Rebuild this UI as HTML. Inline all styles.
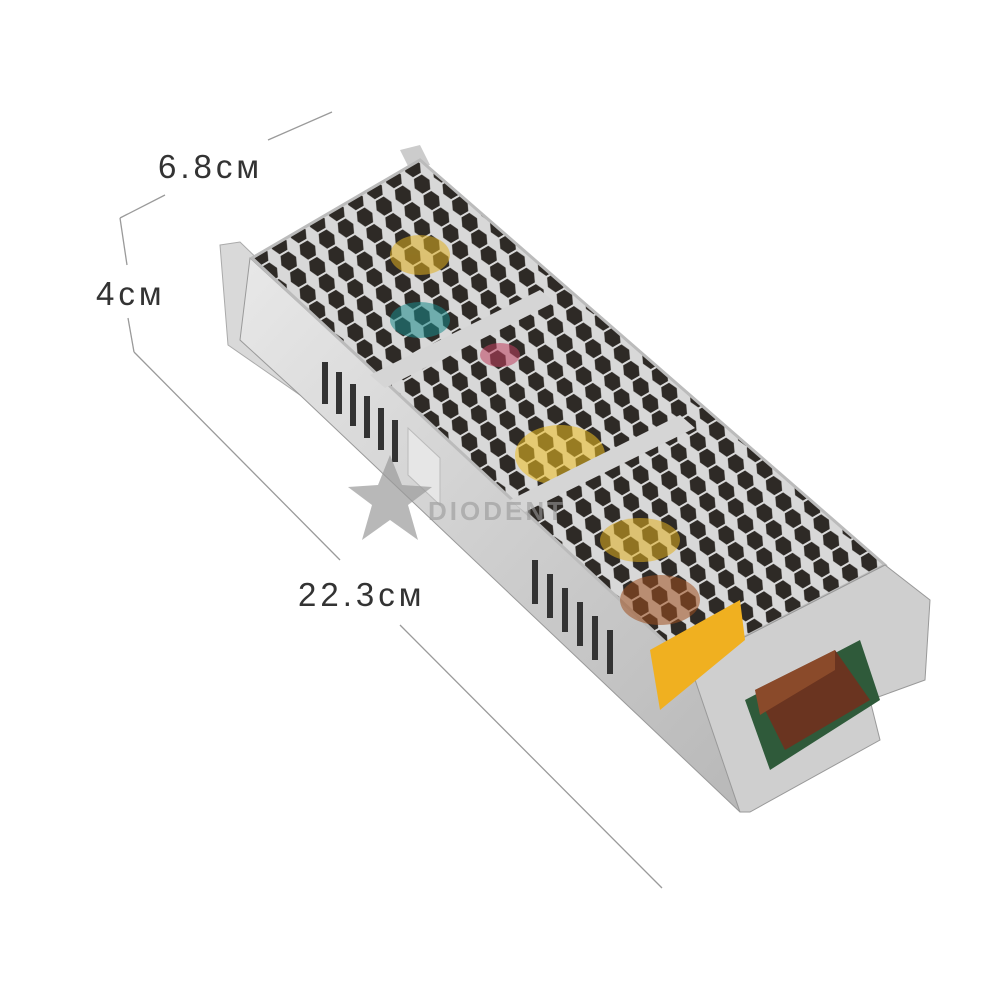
<!DOCTYPE html>
<html><head><meta charset="utf-8"><style>
html,body{margin:0;padding:0;background:#fff;}
svg{display:block}
text{font-family:"Liberation Sans",sans-serif;}
</style></head><body>
<svg width="1000" height="1000" viewBox="0 0 1000 1000" xmlns="http://www.w3.org/2000/svg">
<defs>
<pattern id="hex" width="22" height="19" patternUnits="userSpaceOnUse" patternTransform="rotate(-30)">
<rect width="22" height="19" fill="#d8d8d8"/>
<polygon points="5,1 14,1 18,9.5 14,18 5,18 1,9.5" fill="#2e2a26"/>
</pattern>
<linearGradient id="side" x1="0" y1="0" x2="1" y2="1">
<stop offset="0" stop-color="#e8e8e8"/><stop offset="0.5" stop-color="#cfcfcf"/><stop offset="1" stop-color="#b8b8b8"/>
</linearGradient>
</defs>

<g stroke="#9a9a9a" stroke-width="1.3" fill="none">
<line x1="268" y1="140" x2="332" y2="112"/>
<line x1="120" y1="218" x2="165" y2="195"/>
<line x1="120" y1="218" x2="127" y2="265"/>
<line x1="128" y1="318" x2="134" y2="352"/>
<line x1="134" y1="352" x2="340" y2="560"/>
<line x1="400" y1="625" x2="662" y2="888"/>
</g>
<text x="158" y="178" font-size="33" fill="#333" letter-spacing="4">6.8см</text>
<text x="96" y="305" font-size="33" fill="#333" letter-spacing="4">4см</text>
<text x="298" y="606" font-size="33" fill="#333" letter-spacing="4">22.3см</text>

<polygon points="220,245 240,242 300,300 300,395 228,345" fill="#d9d9d9" stroke="#aaa"/>
<polygon points="400,150 420,145 430,165 410,170" fill="#ccc"/>
<polygon points="250,258 690,662 740,812 300,395 240,340" fill="url(#side)" stroke="#999"/>
<g fill="#333">
<rect x="322" y="362" width="6" height="42"/>
<rect x="336" y="372" width="6" height="42"/>
<rect x="350" y="384" width="6" height="42"/>
<rect x="364" y="396" width="6" height="42"/>
<rect x="378" y="408" width="6" height="42"/>
<rect x="392" y="420" width="6" height="42"/>
<rect x="532" y="560" width="6" height="44"/>
<rect x="547" y="574" width="6" height="44"/>
<rect x="562" y="588" width="6" height="44"/>
<rect x="577" y="602" width="6" height="44"/>
<rect x="592" y="616" width="6" height="44"/>
<rect x="607" y="630" width="6" height="44"/>
</g>
<polygon points="408,428 440,458 440,505 408,475" fill="#e6e6e6" stroke="#bbb"/>
<polygon points="252,258 420,160 885,565 690,665" fill="url(#hex)" stroke="#bbb" stroke-width="3"/>
<g opacity="0.55">
<ellipse cx="420" cy="255" rx="30" ry="20" fill="#e0b020"/>
<ellipse cx="560" cy="455" rx="45" ry="30" fill="#f0c020"/>
<ellipse cx="640" cy="540" rx="40" ry="22" fill="#e0b020"/>
<ellipse cx="420" cy="320" rx="30" ry="18" fill="#1a8a8a"/>
<ellipse cx="500" cy="355" rx="20" ry="12" fill="#c04060"/>
<ellipse cx="660" cy="600" rx="40" ry="25" fill="#a05020"/>
</g>
<polygon points="370,375 540,290 555,302 385,388" fill="#d5d5d5"/>
<polygon points="510,500 680,415 695,428 525,512" fill="#d5d5d5"/>
<polygon points="690,665 885,565 930,600 925,680 870,700 880,740 750,812 740,812" fill="#cfcfcf" stroke="#999"/>
<polygon points="745,700 860,640 880,700 770,770" fill="#2f5a3a"/>
<polygon points="755,690 835,650 870,700 785,750" fill="#6a3420"/>
<polygon points="755,690 835,650 835,670 760,715" fill="#8a4a2a"/>
<polygon points="650,650 740,600 745,640 660,710" fill="#f0b020"/>
<polygon points="390,455 402,485 432,487 408,505 418,540 390,520 362,540 372,505 348,487 378,485" fill="#9a9a9a" opacity="0.7"/>
<text x="428" y="520" font-size="26" font-weight="bold" fill="#999" opacity="0.6" letter-spacing="3">DIODENT</text>
</svg>
</body></html>
